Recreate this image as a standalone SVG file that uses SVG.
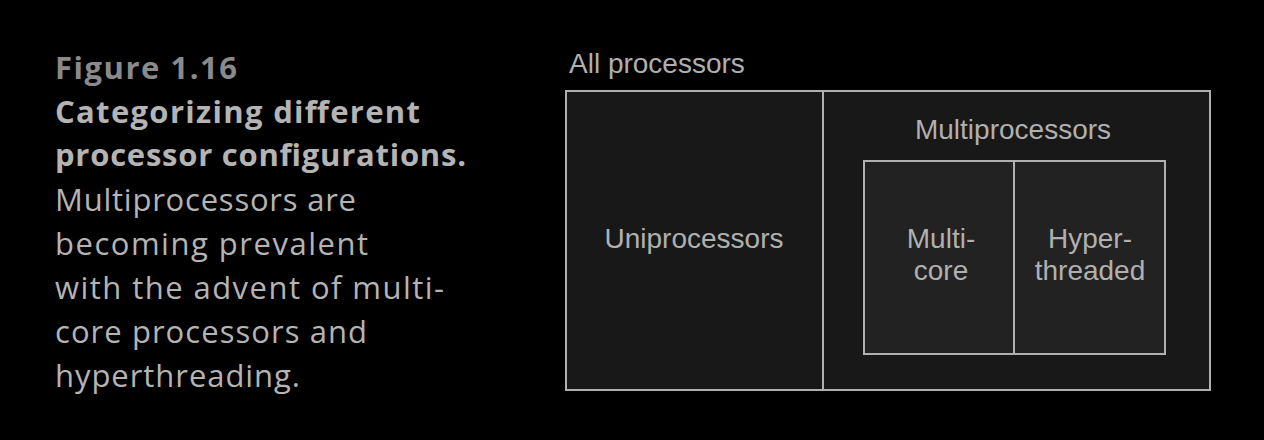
<svg xmlns="http://www.w3.org/2000/svg" width="1264" height="440" viewBox="0 0 1264 440">
<style>
.cap{font-family:"Open Sans","Noto Sans",sans-serif;font-size:31px;fill:#b4b4b4}
.b{font-weight:bold}
.lbl{font-family:"Liberation Sans",Arial,sans-serif;font-size:28px;fill:#b0b0b0;text-anchor:middle}
.box{stroke:#b0b0b0;stroke-width:2}
</style>
<rect width="1264" height="440" fill="#000"/>
<g id="caption">
<text class="cap b" x="55" y="79" style="fill:#8a8a8a" textLength="182" lengthAdjust="spacing">Figure 1.16</text>
<text class="cap b" x="55" y="123" textLength="365" lengthAdjust="spacing">Categorizing different</text>
<text class="cap b" x="55" y="166" textLength="411" lengthAdjust="spacing">processor configurations.</text>
<text class="cap" x="55" y="211" textLength="301" lengthAdjust="spacing">Multiprocessors are</text>
<text class="cap" x="55" y="255" textLength="313" lengthAdjust="spacing">becoming prevalent</text>
<text class="cap" x="55" y="299" textLength="389" lengthAdjust="spacing">with the advent of multi-</text>
<text class="cap" x="55" y="343" textLength="312" lengthAdjust="spacing">core processors and</text>
<text class="cap" x="55" y="387" textLength="245" lengthAdjust="spacing">hyperthreading.</text>
</g>
<g id="all">
<text class="lbl" x="569" y="73" style="text-anchor:start">All processors</text>
<rect class="box" x="566" y="91" width="644" height="299" fill="#181818"/>
</g>
<g id="uni">
<line class="box" x1="823" y1="91" x2="823" y2="390"/>
<text class="lbl" x="694" y="248">Uniprocessors</text>
</g>
<g id="multi">
<text class="lbl" x="1013" y="139">Multiprocessors</text>
<rect class="box" x="864" y="161" width="301" height="193" fill="#222"/>
</g>
<g id="multicore">
<text class="lbl" x="941" y="248">Multi-</text>
<text class="lbl" x="941" y="280">core</text>
</g>
<g id="hyper">
<line class="box" x1="1014" y1="161" x2="1014" y2="354"/>
<text class="lbl" x="1090" y="248">Hyper-</text>
<text class="lbl" x="1090" y="280">threaded</text>
</g>
<g id="connectors"></g>
</svg>
